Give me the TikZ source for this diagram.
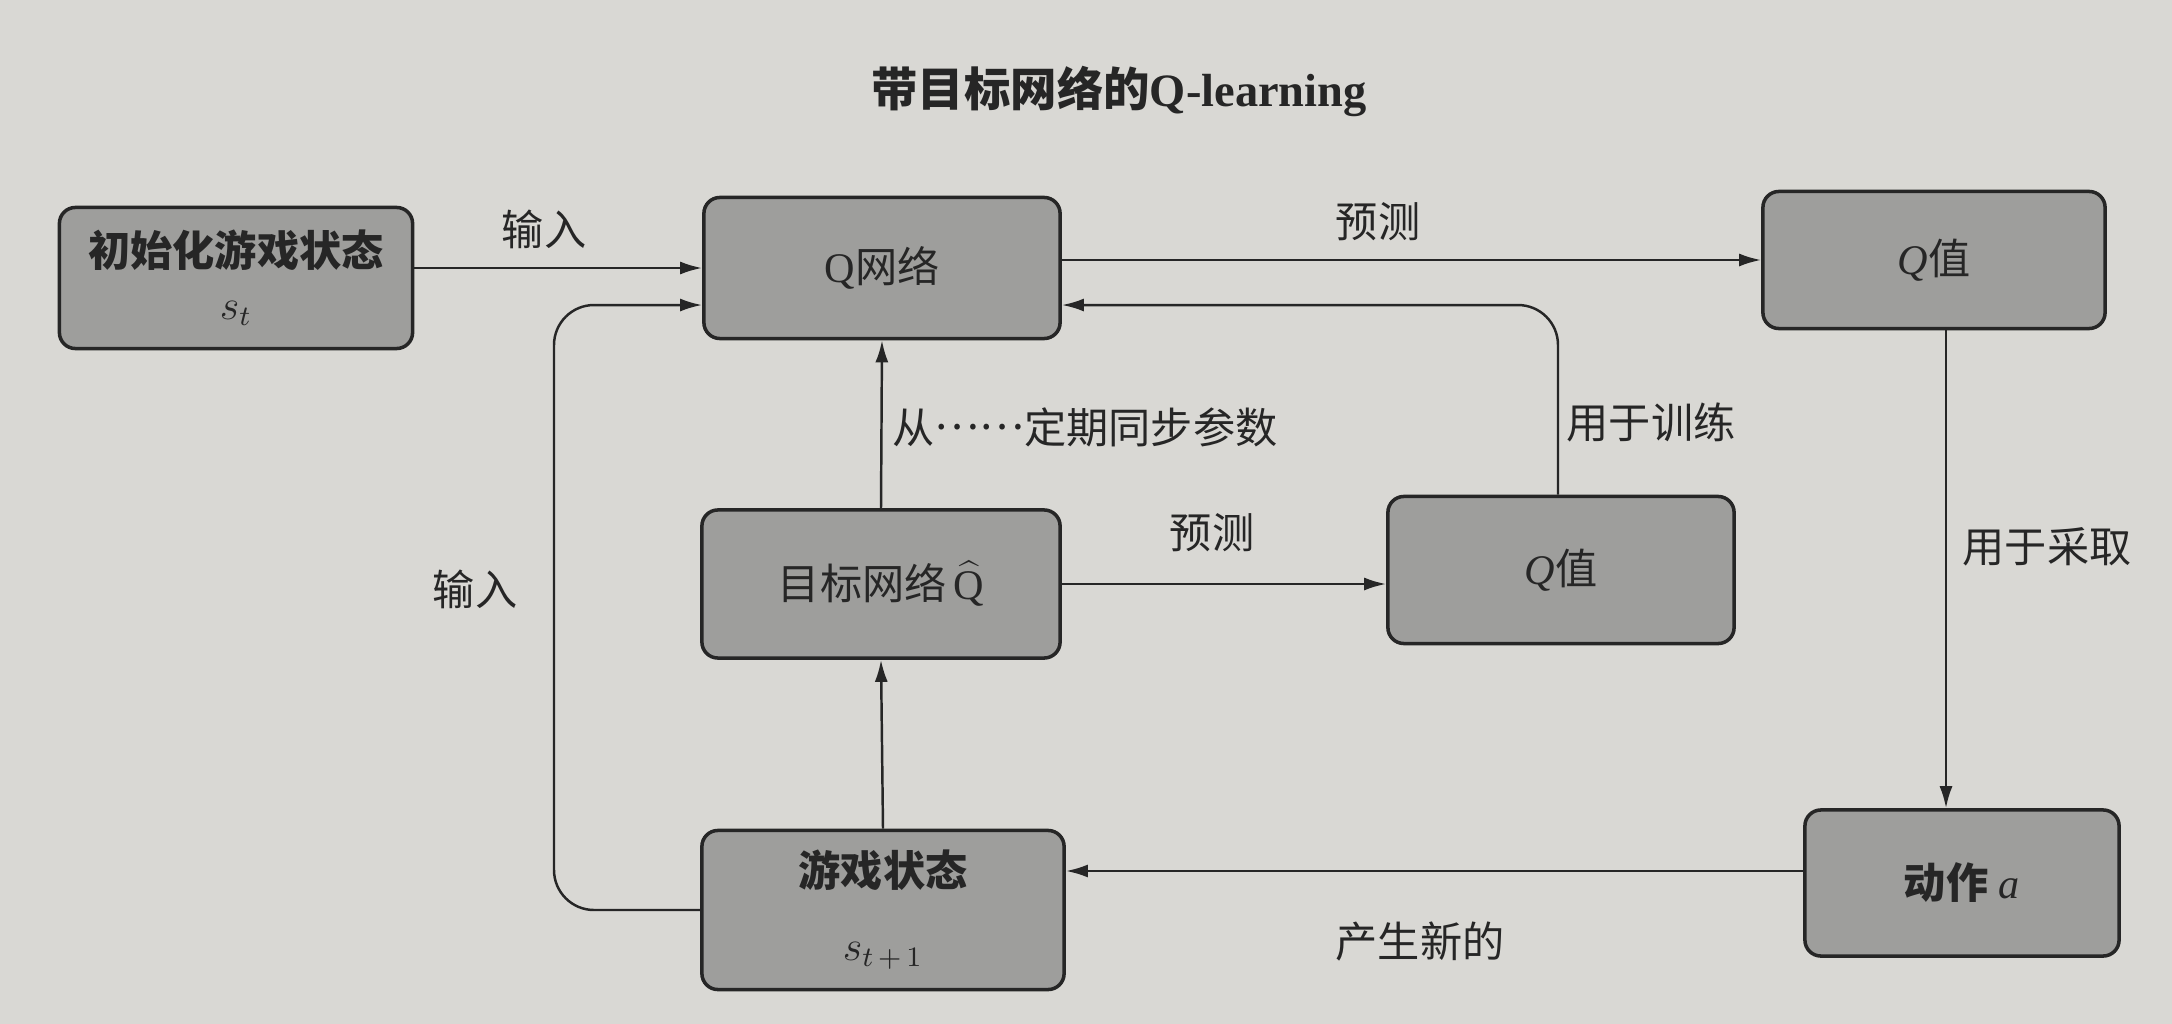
\documentclass[tikz,border=0pt]{standalone}
\usepackage{fontspec}
\setmainfont{Liberation Serif}
\newfontfamily\cjk{Noto Sans CJK SC}
\usetikzlibrary{arrows.meta}
\definecolor{paper}{HTML}{D9D8D4}
\definecolor{boxgray}{HTML}{9E9E9C}
\definecolor{ink}{HTML}{262626}
\begin{document}
\begin{tikzpicture}[x=0.01cm,y=-0.01cm,
  box/.style={draw=ink, line width=1pt, rounded corners=0.16cm, fill=boxgray,
    text=ink, align=center, font=\fontsize{12}{12}\selectfont, inner sep=0pt},
  conn/.style={draw=ink, line width=0.7pt, rounded corners=0.4cm,
    -{Latex[length=0.22cm,width=0.13cm]}},
  lbl/.style={font=\cjk\fontsize{12}{14}\selectfont, text=ink, inner sep=0pt}]
\fill[paper] (0,0) rectangle (2172,1024);
\useasboundingbox (0,0) rectangle (2172,1024);

% title
\node[text=ink, font=\fontsize{13.2}{15}\selectfont\bfseries] (title) at (1119,91)
  {{\cjk\bfseries 带目标网络的}Q-learning};

% boxes
\node[box, minimum width=3.53cm, minimum height=1.41cm] (init) at (236,278)
  {{\cjk\bfseries 初始化游戏状态}\\[3pt]$s_t$};
\node[box, minimum width=3.56cm, minimum height=1.41cm] (qnet) at (882,268)
  {Q{\cjk 网络}};
\node[box, minimum width=3.42cm, minimum height=1.37cm] (qv1) at (1934,260)
  {\textit{Q}{\cjk 值}};
\node[box, minimum width=3.58cm, minimum height=1.48cm] (tgt) at (881,584)
  {{\cjk 目标网络}\,$\widehat{\mathrm{Q}}$};
\node[box, minimum width=3.46cm, minimum height=1.47cm] (qv2) at (1561,570)
  {\textit{Q}{\cjk 值}};
\node[box, minimum width=3.62cm, minimum height=1.59cm] (game) at (883,910)
  {{\cjk\bfseries 游戏状态}\\[9pt]$s_{t\,+\,1}$};
\node[box, minimum width=3.14cm, minimum height=1.46cm] (act) at (1962,883)
  {{\cjk\bfseries 动作} \textit{a}};

% connectors
\draw[conn] (init.east |- qnet.west) -- (qnet.west);
\draw[conn] (qnet.east |- qv1.west) -- (qv1.west);
\coordinate (qnetR) at ([yshift=-0.37cm]qnet.east);
\coordinate (qnetL) at ([yshift=-0.37cm]qnet.west);
\draw[conn] ([xshift=-0.03cm]qv2.north) |- (qnetR);
\draw[conn] (game.west) -- (554,910) |- (qnetL);
\draw[conn] (game.north) -- (tgt.south);
\draw[conn] (tgt.north) -- (qnet.south);
\draw[conn] (tgt.east) -- (tgt.east -| qv2.west);
\draw[conn] ([xshift=0.12cm]qv1.south) -- ([xshift=0.12cm]qv1.south |- act.north);
\draw[conn] ([yshift=0.12cm]act.west) -- ([yshift=0.12cm]act.west -| game.east);

% labels
\node[lbl] (l1) at (544,229) {输入};
\node[lbl] (l2) at (1378,222) {预测};
\node[lbl] (l3) at (1651,422) {用于训练};
\node[lbl] (l4) at (2047,547) {用于采取};
\node[lbl] (l5) at (1420,942) {产生新的};
\node[lbl] (l6) at (475,589) {输入};
\node[lbl, anchor=west] (l7) at (892,427) {从\raisebox{0.32em}{……}定期同步参数};
\node[lbl] (l8) at (1212,533) {预测};
\end{tikzpicture}
\end{document}
